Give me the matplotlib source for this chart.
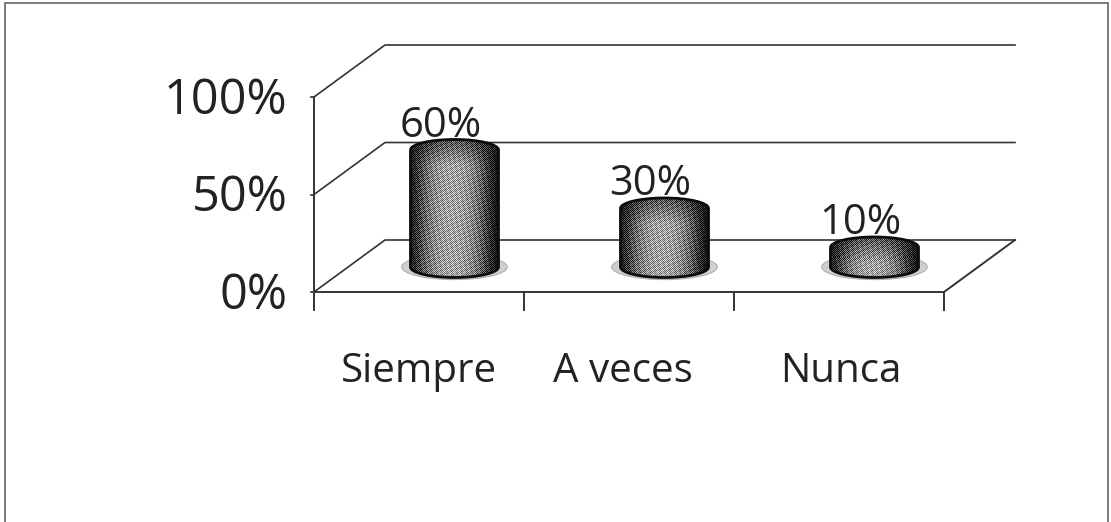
import numpy as np
import matplotlib
matplotlib.use("Agg")
import matplotlib.pyplot as plt
from matplotlib.patches import Ellipse, PathPatch, Rectangle
from matplotlib.path import Path

# Values
categories = ["Siempre", "A veces", "Nunca"]
values = [60, 30, 10]
value_labels = ["60%", "30%", "10%"]
y_ticks = [0, 50, 100]
y_tick_labels = ["0%", "50%", "100%"]

W, H = 1111, 522
plt.rcParams['font.family'] = ['Open Sans', 'DejaVu Sans']

fig = plt.figure(figsize=(W / 100, H / 100), dpi=100)
fig.patch.set_facecolor('white')

# outer frame of the scanned chart
fig.add_artist(Rectangle((5 / W, -0.02), 1103 / W, 1 - 3 / H + 0.02, transform=fig.transFigure,
                         fill=False, ec='#666666', lw=1.2))

# front plane of the 3D box is the real axes
ax = fig.add_axes([314 / W, 1 - 292 / H, 630 / W, 195 / H])
ax.set_xlim(-0.5, 2.5)
ax.set_ylim(0, 100)
ax.axis('off')

depth_x = 71 / 210   # box depth in category units
depth_y = 52 / 1.95  # box depth in percent units
line_col = '#333333'
text_col = '#222222'

# walls, floor and gridlines
for t, lab in zip(y_ticks, y_tick_labels):
    ax.plot([-0.5, -0.5 + depth_x, 2.5 + depth_x], [t, t + depth_y, t + depth_y],
            color=line_col, lw=1.2, clip_on=False, zorder=1)
    ax.plot([-0.5, -0.5 - 0.012], [t, t], color=line_col, lw=1.2, clip_on=False)
    ax.text(-0.5 - 0.125, t - 8.7, lab, ha='right', va='baseline',
            fontsize=35, color=text_col, clip_on=False)
ax.plot([-0.5, -0.5], [0, 100], color=line_col, lw=1.4, clip_on=False, zorder=1)
ax.plot([-0.5, 2.5, 2.5 + depth_x], [0, 0, depth_y], color=line_col, lw=1.4, clip_on=False, zorder=1)

# category ticks and labels (A veces sits a little left in the original)
label_nudge = [0, -0.03, 0.01]
for i, name in enumerate(categories):
    ax.plot([i - 0.5, i - 0.5], [0, -9], color=line_col, lw=1.4, clip_on=False)
    ax.text(i + label_nudge[i], -46, name, ha='center', va='baseline', fontsize=29,
            color=text_col, clip_on=False)
ax.plot([2.5, 2.5], [0, -9], color=line_col, lw=1.4, clip_on=False)

# cylinders
half_w = 44 / 210
ell_h = 10.5 / 1.95
cx_off = depth_x / 2
cy_off = depth_y / 2 - 0.5
k = 0.5523
for i, v in enumerate(values):
    cx = i + cx_off
    y0 = cy_off
    y1 = cy_off + v

    # soft shadow on the floor
    ax.add_patch(Ellipse((cx, y0), half_w * 2.4, ell_h * 2.4, fc='#cfcfcf', ec='#b0b0b0', lw=0.8,
                         clip_on=False, zorder=2))

    verts = [(cx - half_w, y1), (cx - half_w, y0)]
    codes = [Path.MOVETO, Path.LINETO]
    verts += [(cx - half_w, y0 - k * ell_h), (cx - k * half_w, y0 - ell_h), (cx, y0 - ell_h),
              (cx + k * half_w, y0 - ell_h), (cx + half_w, y0 - k * ell_h), (cx + half_w, y0)]
    codes += [Path.CURVE4] * 6
    verts += [(cx + half_w, y1), (cx + half_w, y1 + k * ell_h), (cx + k * half_w, y1 + ell_h),
              (cx, y1 + ell_h), (cx - k * half_w, y1 + ell_h), (cx - half_w, y1 + k * ell_h),
              (cx - half_w, y1)]
    codes += [Path.LINETO] + [Path.CURVE4] * 6
    body = PathPatch(Path(verts, codes), fc='none', ec='#0c0c0c', lw=2.0, clip_on=False, zorder=3)
    ax.add_patch(body)

    # dark edges, lighter centre, ordered dither like the scanned halftone
    nx, ny = 88, int(round((v + 2 * ell_h) * 1.95))
    yy, xi = np.mgrid[0:ny, 0:nx]
    xx = np.linspace(-1, 1, nx)
    shade = 0.64 - 0.68 * np.abs(xx + 0.05) ** 2.2
    img = np.tile(shade, (ny, 1))
    # dark band under the top rim (row 0 is the top of the image)
    band = np.clip((yy - 4) / 22.0, 0, 1)
    img = img * (0.55 + 0.45 * band)
    mottle = 0.10 * np.sin(xi * 0.9 + yy * 0.55) * np.cos(yy * 0.8 - xi * 0.35)
    img = np.clip(img + mottle + 0.2 * (((yy + xi) % 2) * 2 - 1), 0, 1)
    im = ax.imshow(img, cmap='gray', vmin=0, vmax=1, aspect='auto', interpolation='nearest',
                   extent=(cx - half_w, cx + half_w, y0 - ell_h, y1 + ell_h), zorder=2.5, clip_on=True)
    im.set_clip_path(body)

    ax.text(cx - 0.066, y1 + ell_h + 1.5, value_labels[i], ha='center', va='baseline',
            fontsize=30, color=text_col, clip_on=False, zorder=4)

ax.set_xlim(-0.5, 2.5)
ax.set_ylim(0, 100)
fig.savefig("out.png", dpi=100)
